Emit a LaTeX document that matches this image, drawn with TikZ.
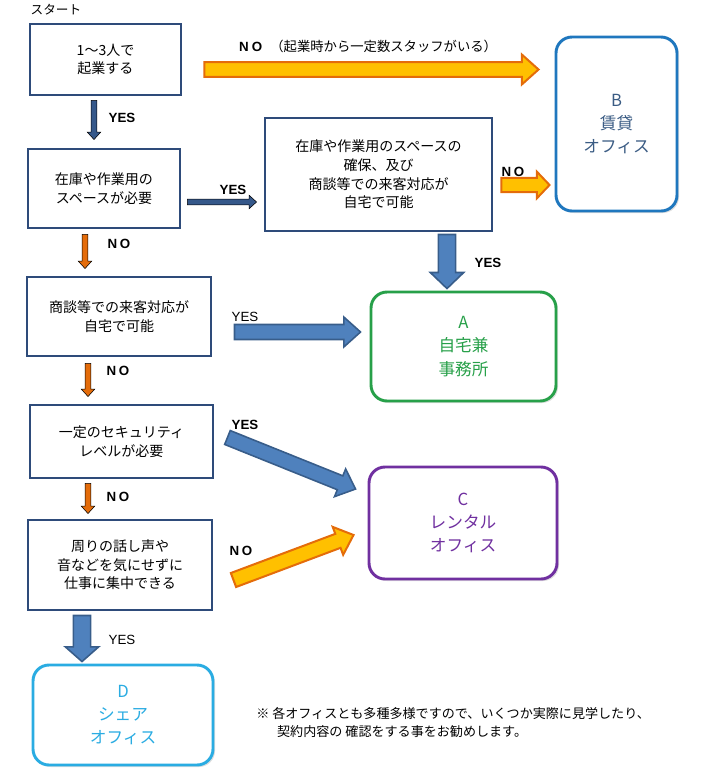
\documentclass[tikz,border=0pt]{standalone}
\usepackage{fontspec}
\setmainfont{Noto Sans CJK JP}
\newfontfamily\latfont{Liberation Sans}
\usetikzlibrary{calc,shadows}
\definecolor{qnavy}{HTML}{2E4B7A}
\definecolor{arrnavy}{HTML}{35588A}
\definecolor{arrblue}{HTML}{4F81BD}
\definecolor{arrblueedge}{HTML}{385D8A}
\definecolor{arrorange}{HTML}{E46C0A}
\definecolor{arrgold}{HTML}{FFC000}
\definecolor{offB}{HTML}{1F77BE}
\definecolor{offBtext}{HTML}{3B5C84}
\definecolor{offA}{HTML}{27A049}
\definecolor{offC}{HTML}{7030A0}
\definecolor{offD}{HTML}{2AACE2}

% block arrow: style, from, to, half body, half head, head length
\newcommand{\blockarrow}[6]{%
  \coordinate (bhead) at ($(#3)!#6!(#2)$);
  \filldraw[#1] ($(#2)!#4!90:(#3)$) -- ($(bhead)!#4!90:(#3)$) -- ($(bhead)!#5!90:(#3)$) -- (#3)
    -- ($(bhead)!#5!-90:(#3)$) -- ($(bhead)!#4!-90:(#3)$) -- ($(#2)!#4!-90:(#3)$) -- cycle;}
\newcommand{\thinarr}[3]{\blockarrow{#1}{#2}{#3}{2.1pt}{5pt}{5.5pt}}
\newcommand{\fatarr}[3]{\blockarrow{#1}{#2}{#3}{5.6pt}{11.2pt}{12.5pt}}

\begin{document}
\begin{tikzpicture}[x=0.75pt,y=-0.75pt,
  qbox/.style={draw=qnavy,line width=2.2pt,fill=white,inner sep=0pt,align=center,font=\fontsize{10.5}{14}\selectfont},
  obox/.style={line width=2.2pt,rounded corners=12pt,fill=white,inner sep=0pt,align=center,font=\fontsize{12.5}{17.5}\selectfont,drop shadow={opacity=0.25,shadow xshift=1.5pt,shadow yshift=-1.5pt}},
  yn/.style={font=\latfont\bfseries\fontsize{10}{12}\selectfont,inner sep=0pt},
  ynlight/.style={font=\latfont\fontsize{10}{12}\selectfont,inner sep=0pt},
  thinblue/.style={fill=arrnavy},
  thinorange/.style={fill=arrorange},
  fatblue/.style={fill=arrblue,draw=arrblueedge,line width=1.2pt},
  fatgold/.style={fill=arrgold,draw=arrorange,line width=1.5pt}]
  \path[use as bounding box] (0,0) rectangle (715,775);

  \node[font=\fontsize{9.5}{11}\selectfont] (start) at (56,10) {スタート};
  \node[qbox,minimum width=113.25pt,minimum height=53.25pt] (q1) at (105.5,59.5) {1～3人で\\起業する};
  \node[qbox,minimum width=114pt,minimum height=59.25pt] (q2) at (104,188.5) {在庫や作業用の\\スペースが必要};
  \node[qbox,minimum width=170.25pt,minimum height=84.75pt] (q3) at (378.5,174.5) {在庫や作業用のスペースの\\確保、及び\\商談等での来客対応が\\自宅で可能};
  \node[qbox,minimum width=138pt,minimum height=59.25pt] (q4) at (119,316.5) {商談等での来客対応が\\自宅で可能};
  \node[qbox,minimum width=137.25pt,minimum height=54.75pt] (q5) at (121.5,441.5) {一定のセキュリティ\\レベルが必要};
  \node[qbox,minimum width=138pt,minimum height=67.5pt] (q6) at (120,565) {周りの話し声や\\音などを気にせずに\\仕事に集中できる};

  \node[obox,draw=offB,text=offBtext,minimum width=90.75pt,minimum height=130.5pt] (oB) at (616.5,124) {B\\賃貸\\オフィス};
  \node[obox,draw=offA,text=offA,minimum width=138.75pt,minimum height=81.75pt] (oA) at (463.5,346.5) {A\\自宅兼\\事務所};
  \node[obox,draw=offC,text=offC,minimum width=141pt,minimum height=84pt] (oC) at (463,523) {C\\レンタル\\オフィス};
  \node[obox,draw=offD,text=offD,minimum width=135pt,minimum height=75pt] (oD) at (123,715) {D\\シェア\\オフィス};

  % thin arrows
  \thinarr{thinblue}{$(q1.south)+(-11.5,4)$}{$(q2.north)+(-10,-8)$}
  \thinarr{thinblue}{$(q2.east)+(6,13.5)$}{$(q3.west)+(-7,27.5)$}
  \thinarr{thinorange}{$(q2.south)+(-19,5)$}{$(q4.north)+(-34,-7)$}
  \thinarr{thinorange}{$(q4.south)+(-31,6)$}{$(q5.north)+(-33.5,-7)$}
  \thinarr{thinorange}{$(q5.south)+(-33.5,4)$}{$(q6.north)+(-32,-5)$}
  % fat arrows
  \fatarr{fatgold}{$(q1.east)+(22,10)$}{$(oB.west)+(-16,-54.5)$}
  \blockarrow{fatgold}{$(q3.east)+(8,10.5)$}{$(oB.west)+(-5,61)$}{5.4pt}{10pt}{9.5pt}
  \blockarrow{fatblue}{$(q3.south)+(68.5,2)$}{$(oA.north)+(-16.5,-2)$}{6.5pt}{12.5pt}{12pt}
  \fatarr{fatblue}{$(q4.east)+(22,15.5)$}{$(oA.west)+(-9,-14.5)$}
  \fatarr{fatblue}{$(q5.east)+(13,-4)$}{$(oC.west)+(-12,-34)$}
  \fatarr{fatgold}{$(q6.east)+(20,15)$}{$(oC.west)+(-14,12)$}
  \blockarrow{fatblue}{$(q6.south)+(-38,4)$}{$(oD.north)+(-41,-2)$}{6.5pt}{12.5pt}{11pt}

  % labels
  \node[inner sep=0pt,font=\fontsize{10}{12}\selectfont] (lnotop) at (368,46) {{\latfont\bfseries N\hspace{2.5pt}O}\hspace{6pt}（起業時から一定数スタッフがいる）};
  \node[yn] (ly1) at (122,118) {YES};
  \node[yn] (ly2) at (233,190) {YES};
  \node[yn] (ln1) at (119,244) {N\hspace{2pt}O};
  \node[yn] (ln2) at (513,172) {N\hspace{2pt}O};
  \node[yn] (ly3) at (488,263) {YES};
  \node[ynlight] (ly4) at (245,317) {YES};
  \node[yn] (ln3) at (118,371) {N\hspace{2pt}O};
  \node[yn] (ly5) at (245,425) {YES};
  \node[yn] (ln4) at (118,497) {N\hspace{2pt}O};
  \node[yn] (ln5) at (241,551) {N\hspace{2pt}O};
  \node[ynlight] (ly6) at (122,640) {YES};

  \node[anchor=west,align=left,inner sep=0pt,font=\fontsize{9.8}{13.5}\selectfont] (note) at (256,722)
    {※ 各オフィスとも多種多様ですので、いくつか実際に見学したり、\\\hspace*{1.6em}契約内容の 確認をする事をお勧めします。};
\end{tikzpicture}
\end{document}
